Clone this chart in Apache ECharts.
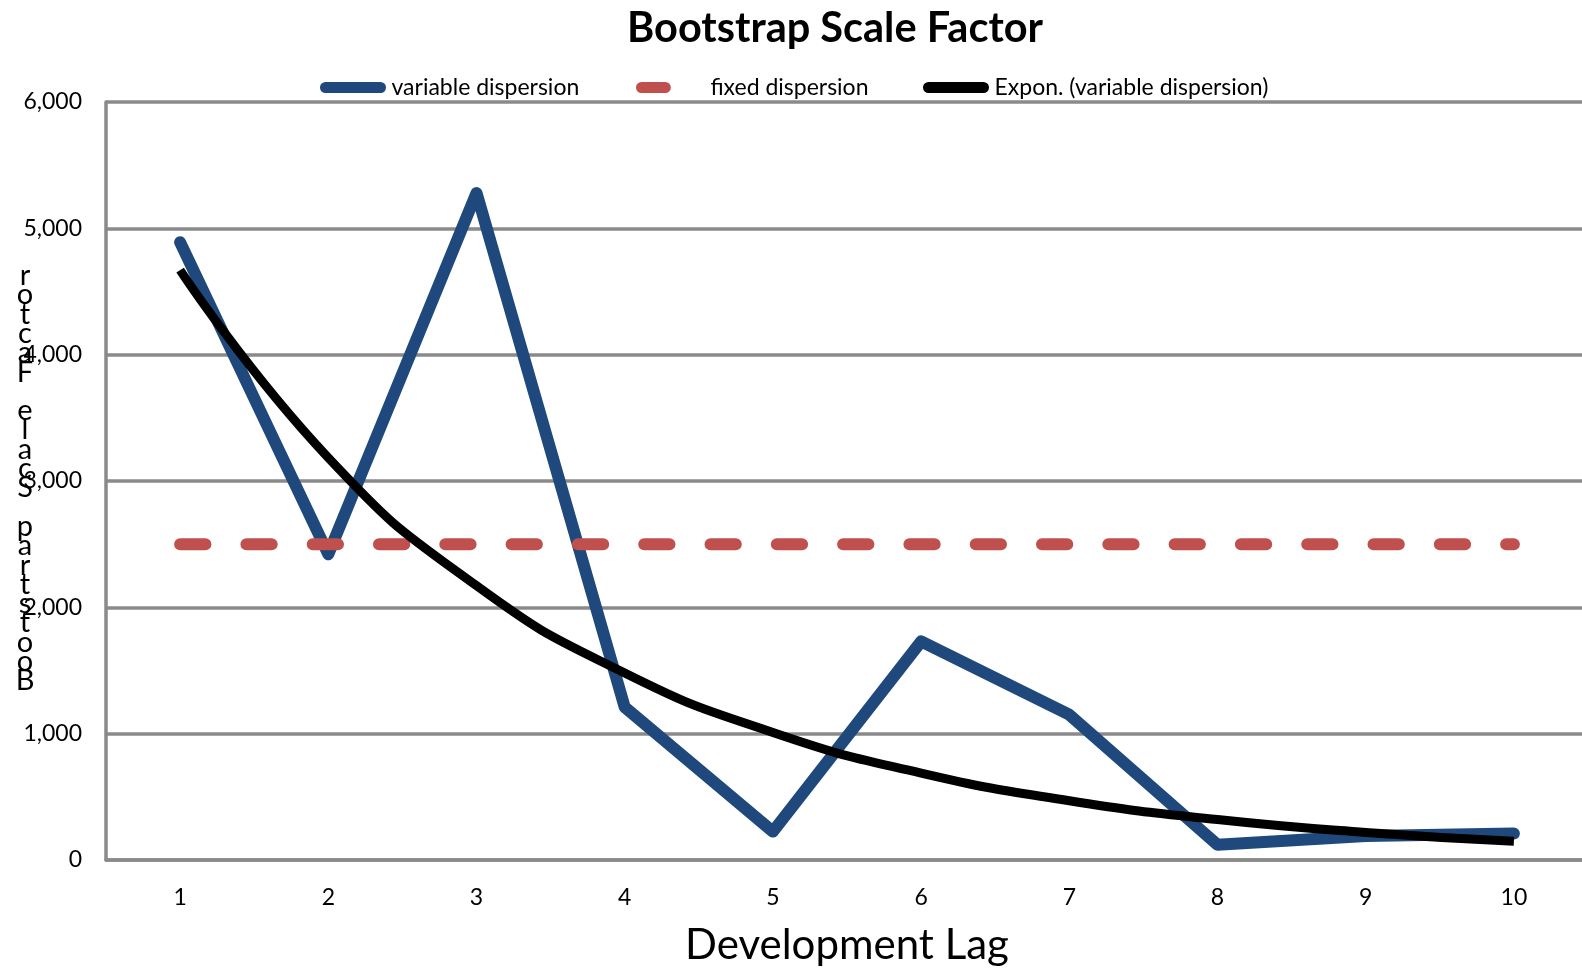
<!DOCTYPE html>
<html>
<head>
<meta charset="utf-8">
<script src="https://cdn.jsdelivr.net/npm/echarts@6/dist/echarts.min.js"></script>
<style>
  html, body { margin: 0; padding: 0; background: #fff; overflow: hidden; }
  /* canvas runs a little past the right edge so the plot area is clipped there */
  #chart { width: 1600px; height: 971px; }
</style>
</head>
<body>
<div id="chart"></div>
<script>
// Development lags on the category axis
const lags = ['1', '2', '3', '4', '5', '6', '7', '8', '9', '10'];
// Scale factor per lag when dispersion varies by lag
const variableDispersion = [4890, 2420, 5280, 1210, 225, 1730, 1150, 120, 190, 210];
// Single scale factor shared by all lags
const fixedDispersion = [2500, 2500, 2500, 2500, 2500, 2500, 2500, 2500, 2500, 2500];
// Value axis ticks
const yTicks = [0, 1000, 2000, 3000, 4000, 5000, 6000];

const titleText = 'Bootstrap Scale Factor';
const yTitle = 'Bootstrap Scale Factor';
const xTitle = 'Development Lag';
const names = ['variable dispersion', 'fixed dispersion', 'Expon. (variable dispersion)'];

// Exponential trend y = a * e^(b x), least squares on ln(y)
function expTrend(vals) {
  const n = vals.length;
  const xs = vals.map((_, i) => i + 1);
  const ls = vals.map(v => Math.log(v));
  const mx = xs.reduce((s, v) => s + v, 0) / n;
  const my = ls.reduce((s, v) => s + v, 0) / n;
  let sxy = 0, sxx = 0;
  for (let i = 0; i < n; i++) {
    sxy += (xs[i] - mx) * (ls[i] - my);
    sxx += (xs[i] - mx) * (xs[i] - mx);
  }
  const b = sxy / sxx;
  const a = Math.exp(my - b * mx);
  return xs.map(x => a * Math.exp(b * x));
}
const trend = expTrend(variableDispersion);

const FONT = 'Lato';
const grey = '#8a8a8a';
const blue = '#1f497d';
const red = '#c0504d';
const pillLong = 'path://M6 0 L66 0 A6 6 0 0 1 66 12 L6 12 A6 6 0 0 1 6 0 Z';
const pillShort = 'path://M6 0 L32 0 A6 6 0 0 1 32 12 L6 12 A6 6 0 0 1 6 0 Z';
const legendText = { fontFamily: FONT, fontSize: 23, color: '#000' };

const chart = echarts.init(document.getElementById('chart'), null, { renderer: 'canvas' });
chart.setOption({
  animation: false,
  backgroundColor: '#ffffff',
  title: {
    text: titleText,
    left: 622,
    top: 3,
    textStyle: { fontFamily: FONT, fontSize: 41.5, fontWeight: 'bold', color: '#000' }
  },
  legend: [
    {
      data: [{ name: names[0], icon: pillLong }],
      left: 315, top: 71,
      itemWidth: 71, itemHeight: 11,
      textStyle: Object.assign({ padding: [0, 0, 0, -2] }, legendText)
    },
    {
      data: [{ name: names[1], icon: pillShort }],
      left: 631, top: 71,
      itemWidth: 38, itemHeight: 11,
      textStyle: Object.assign({ padding: [0, 0, 0, 33] }, legendText)
    },
    {
      data: [{ name: names[2], icon: pillLong }],
      left: 918, top: 71,
      itemWidth: 71, itemHeight: 11,
      textStyle: Object.assign({ padding: [0, 0, 0, -2] }, legendText)
    }
  ],
  grid: { left: 106, right: 12, top: 102, bottom: 109, containLabel: false },
  xAxis: {
    type: 'category',
    data: lags,
    boundaryGap: true,
    name: xTitle,
    nameLocation: 'middle',
    nameGap: 64,
    nameTextStyle: { fontFamily: FONT, fontSize: 42, color: '#000' },
    axisLine: { show: true, lineStyle: { color: grey, width: 3.5 } },
    axisTick: { show: false },
    axisLabel: { fontFamily: FONT, fontSize: 23, color: '#000', margin: 26 }
  },
  yAxis: {
    type: 'value',
    min: yTicks[0],
    max: yTicks[yTicks.length - 1],
    interval: yTicks[1] - yTicks[0],
    axisLine: { show: true, lineStyle: { color: grey, width: 3.5 } },
    axisTick: { show: false },
    splitLine: { show: true, lineStyle: { color: grey, width: 3.5 } },
    axisLabel: {
      fontFamily: FONT, fontSize: 23, color: '#000', margin: 24,
      formatter: v => v.toLocaleString('en-US')
    }
  },
  graphic: [
    {
      type: 'text',
      x: 25,
      y: 266,
      z: 10,
      style: {
        text: yTitle.split('').reverse().join('\n'),
        fontFamily: FONT,
        fontSize: 29,
        lineHeight: 19.3,
        fill: '#000',
        align: 'center',
        verticalAlign: 'top'
      }
    }
  ],
  series: [
    {
      name: names[0],
      type: 'line',
      data: variableDispersion,
      symbol: 'none',
      z: 2,
      lineStyle: { color: blue, width: 12, cap: 'round', join: 'round' },
      itemStyle: { color: blue }
    },
    {
      name: names[1],
      type: 'line',
      data: fixedDispersion,
      symbol: 'none',
      z: 3,
      lineStyle: { color: red, width: 12, type: [25.3, 41], cap: 'round' },
      itemStyle: { color: red }
    },
    {
      name: names[2],
      type: 'line',
      data: trend,
      symbol: 'none',
      smooth: true,
      z: 4,
      lineStyle: { color: '#000', width: 9, join: 'round' },
      itemStyle: { color: '#000' }
    }
  ]
});
</script>
</body>
</html>
